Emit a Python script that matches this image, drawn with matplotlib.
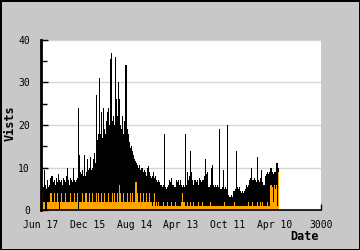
import matplotlib
matplotlib.use('Agg')  # noqa
import matplotlib.pyplot as plt
from matplotlib.ticker import MultipleLocator

# one value per ~10.7 day column
visits = [
    7, 6, 5.5, 9.5, 6, 5, 7, 5.5, 6, 7.5,
    8, 8, 6.5, 7, 6, 7.5, 6.5, 8.5, 7, 6.5,
    7, 6, 7.5, 7, 6.5, 8, 10, 7, 6, 7.5,
    7, 6.5, 10, 7, 6.5, 7, 7.5, 24, 13, 9,
    8.5, 9.5, 8, 13, 8, 9, 12, 9.5, 10, 12.5,
    9.5, 10, 12, 13.5, 11, 27, 16.5, 18, 31, 18,
    23, 17, 24, 19, 18, 21, 23, 24, 20, 35.5,
    37, 21, 22, 20, 36, 26, 22, 30, 26, 20,
    19, 22, 18, 21, 34, 34, 19, 18, 16, 14.5,
    15, 14, 13, 12, 11.5, 11, 10.5, 10, 10.5, 9.5,
    9.8, 10, 9, 9.5, 9, 8, 10, 10.4, 9, 8,
    7.5, 8, 9, 7.5, 8, 7, 6.5, 7, 6.5, 6,
    6, 5.5, 6, 18, 5.5, 5, 5.5, 6, 7, 6.5,
    7.5, 6, 6, 5.5, 5.5, 7, 6.5, 7, 6, 7,
    6, 5.5, 6, 5.5, 18, 6, 9, 7, 8, 14,
    9, 7, 6, 7, 7, 6.5, 7, 6, 7.5, 7,
    6.5, 7, 7, 8, 12, 8.5, 9, 5.5, 5.5, 6,
    10, 10.5, 6, 5.5, 6, 5.5, 6, 5.5, 19, 5,
    5, 5.5, 9.5, 5, 5.5, 5, 20, 3.5, 3, 3,
    3.5, 3, 4.5, 4.5, 5, 14, 5.5, 5, 5.5, 4.5,
    4, 4.5, 4, 4.5, 5, 6, 5.5, 6, 7, 7.5,
    10, 7, 7, 7.5, 7, 6.5, 12.5, 7, 6.5, 7.5,
    9.5, 6.5, 6, 6, 8, 8.5, 9, 8.5, 9, 10,
    10, 9, 8.5, 9, 9, 11, 11, 10,
]

unique = [
    4, 4, 2, 2, 0, 0, 2, 2, 2, 4,
    4, 2, 2, 4, 2, 2, 4, 2, 0, 2,
    4, 2, 2, 2, 4, 2, 2, 2, 2, 4,
    2, 2, 2, 4, 2, 2, 4, 0, 2, 2,
    2, 4, 2, 2, 4, 4, 2, 2, 4, 2,
    2, 4, 2, 2, 2, 4, 2, 4, 2, 2,
    4, 2, 2, 4, 2, 2, 2, 4, 2, 2,
    2, 4, 2, 4, 2, 2, 4, 2, 6, 4,
    2, 2, 4, 2, 2, 2, 4, 2, 2, 4,
    2, 4, 2, 2, 6.5, 6.5, 4, 2, 2, 4,
    2, 2, 4, 2, 2, 4, 2, 2, 4, 2,
    2, 1, 2, 4, 1, 2, 1, 2, 1, 1,
    1, 1, 2, 1, 1, 1, 2, 1, 1, 1,
    2, 1, 1, 1, 2, 1, 1, 1, 1, 1,
    2, 4, 2, 2, 1, 1, 2, 1, 1, 2,
    1, 1, 2, 1, 1, 1, 1, 2, 1, 1,
    1, 2, 1, 1, 1, 1, 1, 1, 1, 2,
    1, 1, 1, 1, 1, 1, 1, 1, 1, 1,
    1, 1, 1, 2, 1, 1, 1, 1, 1, 1,
    1, 1, 1, 2, 1, 1, 1, 1, 1, 1,
    1, 1, 1, 1, 1, 1, 1, 2, 1, 1,
    1, 2, 1, 1, 1, 1, 2, 1, 1, 2,
    1, 2, 1, 1, 1, 1, 2, 1, 1, 6,
    6, 5.5, 2, 6, 5, 6, 1, 9,
]

tick_vals = [0, 500, 1000, 1500, 2000, 2500, 3000]
tick_labels = ['Jun 17', 'Dec 15', 'Aug 14', 'Apr 13', 'Oct 11', 'Apr 10', '3000']

step = 3000 / 280
xs = [i * step for i in range(len(visits))]

mono = 'DejaVu Sans Mono'

fig = plt.figure(figsize=(3.6, 2.5), dpi=100, facecolor='#c8c8c8',
                 edgecolor='black', linewidth=1)
ax = fig.add_axes([41 / 360, 1 - 210 / 250, 280 / 360, 170 / 250])
ax.set_facecolor('white')

ax.bar(xs, visits, width=step * 1.05, align='edge', color='black',
       linewidth=0, antialiased=False, zorder=2)
ax.bar(xs, unique, width=step * 1.05, align='edge', color='#ffa500',
       linewidth=0, antialiased=False, zorder=3)

ax.set_xlim(0, 3000)
ax.set_ylim(0, 40)
ax.set_xticks(tick_vals)
ax.set_xticklabels(tick_labels, fontfamily=mono, fontsize=7)
ax.yaxis.set_major_locator(MultipleLocator(10))
ax.yaxis.set_minor_locator(MultipleLocator(5))
for lab in ax.get_yticklabels():
    lab.set_fontfamily(mono)
    lab.set_fontsize(7)

ax.tick_params(axis='both', which='both', direction='in', color='black')
ax.tick_params(axis='y', which='major', length=5, width=1, pad=8)
ax.tick_params(axis='y', which='minor', length=4, width=1)
ax.tick_params(axis='x', which='major', length=4, width=1, pad=7)

ax.grid(axis='y', color='#d6d6d6', linewidth=1, zorder=1)
ax.set_axisbelow(True)

ax.spines['top'].set_visible(False)
ax.spines['right'].set_visible(False)
ax.spines['left'].set_linewidth(2)
ax.spines['bottom'].set_linewidth(1.2)
ax.spines['left'].set_zorder(5)
ax.spines['bottom'].set_zorder(5)

fig.text(10 / 360, 1 - 123 / 250, 'Vists', rotation=90, ha='center',
         va='center', fontfamily=mono, fontweight='bold', fontsize=8.5)
fig.text(319 / 360, 1 - 236 / 250, 'Date', ha='right', va='center',
         fontfamily=mono, fontweight='bold', fontsize=8.5)

fig.savefig('out.png', dpi=100, facecolor=fig.get_facecolor(),
            edgecolor=fig.get_edgecolor())
